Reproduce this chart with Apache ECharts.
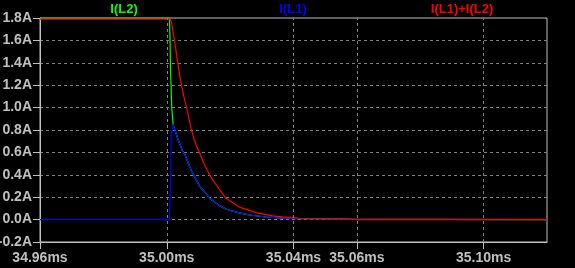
<!DOCTYPE html>
<html>
<head>
<meta charset="utf-8">
<script src="https://cdn.jsdelivr.net/npm/echarts@6/dist/echarts.min.js"></script>
<style>html,body{margin:0;padding:0;background:#000;overflow:hidden;}#c{width:575px;height:268px;}</style>
</head>
<body>
<div id="c"></div>
<script>
// ---- data (time in ms, current in A) ----
const seriesNames = ["I(L2)", "I(L1)", "I(L1)+I(L2)"];
const xTickLabels = [34.96, 35.00, 35.04, 35.06, 35.10];
const xGridLines = [35.00, 35.04, 35.06, 35.10];

const l2Time = [34.96, 35.00085, 35.00101, 35.00117, 35.00157, 35.00195, 35.0020, 35.0035, 35.0050, 35.0056, 35.0077, 35.0098, 35.0103, 35.0119, 35.0135, 35.0150, 35.0166, 35.0187, 35.0208, 35.0229, 35.0261, 35.0313, 35.0365, 35.0418, 35.0481, 35.0556, 35.0560, 35.12];
const l2Val  = [1.80, 1.80, 1.64, 1.36, 1.00, 0.87, 0.85, 0.72, 0.61, 0.59, 0.44, 0.33, 0.30, 0.25, 0.19, 0.16, 0.125, 0.095, 0.075, 0.06, 0.041, 0.023, 0.014, 0.009, 0.006, 0.004, 0, 0];

const l1Time = [34.96, 35.0008, 35.0009, 35.0012, 35.00126, 35.0014, 35.0018, 35.0020, 35.0035, 35.0050, 35.0056, 35.0077, 35.0098, 35.0103, 35.0119, 35.0135, 35.0150, 35.0166, 35.0187, 35.0208, 35.0229, 35.0261, 35.0313, 35.0365, 35.0418, 35.0481, 35.0556, 35.0560, 35.12];
const l1Val  = [0, 0, 0.06, 0.06, 0.42, 0.76, 0.80, 0.85, 0.72, 0.61, 0.59, 0.44, 0.33, 0.30, 0.25, 0.19, 0.16, 0.125, 0.095, 0.075, 0.06, 0.041, 0.023, 0.014, 0.009, 0.006, 0.004, 0, 0];

const sumTime = [34.96, 35.0011, 35.0015, 35.0024, 35.0033, 35.0043, 35.0054, 35.0065, 35.0077, 35.0087, 35.0098, 35.0103, 35.0119, 35.0135, 35.0150, 35.0166, 35.0187, 35.0208, 35.0229, 35.0261, 35.0282, 35.0313, 35.0334, 35.0365, 35.0387, 35.0418, 35.0449, 35.0556, 35.0594, 35.0601, 35.12];
const sumVal  = [1.79, 1.79, 1.76, 1.61, 1.43, 1.25, 1.10, 0.97, 0.81, 0.71, 0.63, 0.60, 0.49, 0.40, 0.335, 0.27, 0.19, 0.15, 0.112, 0.083, 0.062, 0.045, 0.033, 0.024, 0.019, 0.012, 0.010, 0.008, 0.003, 0, 0];

const zip = (t, v) => t.map((x, i) => [x, v[i]]);

const axisGrey = '#c0c0c0';
const gridGrey = '#808080';
const font = 'Liberation Sans, Arial, sans-serif';

const chart = echarts.init(document.getElementById('c'), null, {renderer: 'canvas', devicePixelRatio: 1});
chart.setOption({
  backgroundColor: '#000000',
  animation: false,
  grid: {left: 40, top: 18, width: 507, height: 224, containLabel: false, outerBoundsMode: 'none',
    show: true, borderColor: axisGrey, borderWidth: 1, backgroundColor: '#000'},
  xAxis: {
    type: 'value', min: 34.96, max: 35.12,
    axisLine: {show: true, onZero: false, lineStyle: {color: axisGrey}},
    axisTick: {show: true, length: 7, customValues: xTickLabels, lineStyle: {color: axisGrey}},
    axisLabel: {customValues: xTickLabels, color: axisGrey, fontFamily: font, fontSize: 14, fontWeight: 'bold', margin: 9,
      formatter: v => v.toFixed(2) + 'ms', showMinLabel: true, showMaxLabel: true, hideOverlap: false},
    splitLine: {show: false}
  },
  yAxis: {
    type: 'value', min: -0.2, max: 1.8, interval: 0.2,
    axisLine: {show: true, onZero: false, lineStyle: {color: axisGrey}},
    axisTick: {show: true, length: 7, lineStyle: {color: axisGrey}},
    axisLabel: {color: axisGrey, fontFamily: font, fontSize: 14, fontWeight: 'bold', margin: 8,
      formatter: v => v.toFixed(1) + 'A'},
    splitLine: {show: true, showMinLine: false, showMaxLine: false, lineStyle: {color: gridGrey, type: [3, 3], width: 1}}
  },
  graphic: [
    {type: 'text', x: 124, y: 9, style: {text: seriesNames[0], fill: '#00ff00', font: 'bold 13px ' + font, textAlign: 'center', textVerticalAlign: 'middle'}},
    {type: 'text', x: 293, y: 9, style: {text: seriesNames[1], fill: '#0000ff', font: 'bold 13px ' + font, textAlign: 'center', textVerticalAlign: 'middle'}},
    {type: 'text', x: 462, y: 9, style: {text: seriesNames[2], fill: '#ff0000', font: 'bold 13px ' + font, textAlign: 'center', textVerticalAlign: 'middle'}}
  ],
  series: [
    {type: 'line', name: 'vgrid', data: [], z: 1, silent: true,
      markLine: {silent: true, symbol: 'none', label: {show: false}, animation: false,
        lineStyle: {color: gridGrey, type: [3, 3], width: 1},
        data: xGridLines.map(x => ({xAxis: x}))}},
    {type: 'line', name: seriesNames[0], data: zip(l2Time, l2Val), showSymbol: false, symbol: 'none', z: 2,
      lineStyle: {color: '#00ff00', width: 1.2}, itemStyle: {color: '#00ff00'}},
    {type: 'line', name: seriesNames[1], data: zip(l1Time, l1Val), showSymbol: false, symbol: 'none', z: 3,
      lineStyle: {color: '#0000ff', width: 1.2}, itemStyle: {color: '#0000ff'}},
    {type: 'line', name: seriesNames[2], data: zip(sumTime, sumVal), showSymbol: false, symbol: 'none', z: 4,
      lineStyle: {color: '#ff0000', width: 1.2}, itemStyle: {color: '#ff0000'}}
  ]
});
</script>
</body>
</html>
